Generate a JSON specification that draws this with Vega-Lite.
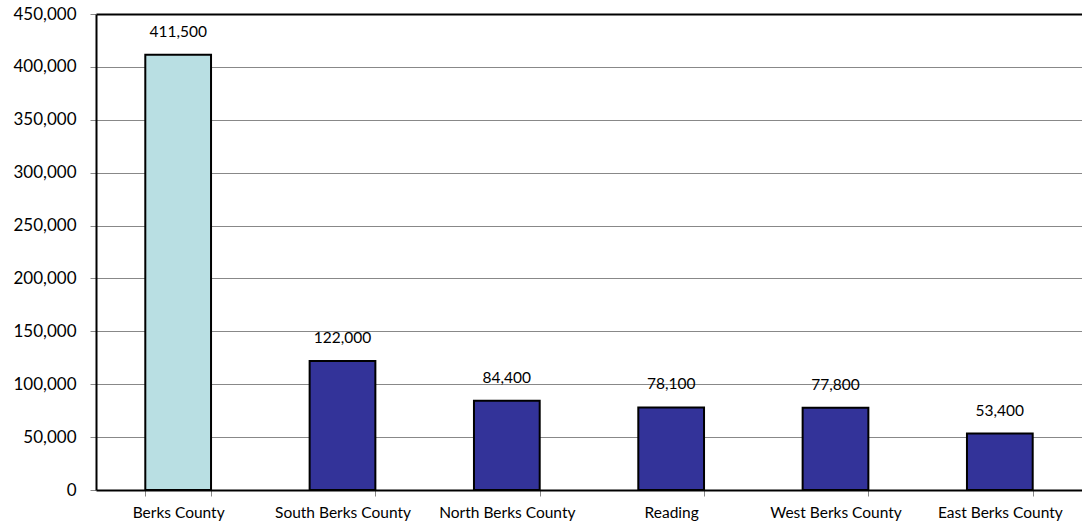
{
  "$schema": "https://vega.github.io/schema/vega-lite/v6.json",
  "width": 986,
  "height": 476,
  "autosize": {"type": "none"},
  "padding": {"left": 96, "top": 14, "right": 0, "bottom": 35},
  "background": "white",
  "config": {"view": {"stroke": null}, "font": "Lato"},
  "data": {"values": [
    {"region": "Berks County", "population": 411500, "group": "county"},
    {"region": "South Berks County", "population": 122000, "group": "sub"},
    {"region": "North Berks County", "population": 84400, "group": "sub"},
    {"region": "Reading", "population": 78100, "group": "sub"},
    {"region": "West Berks County", "population": 77800, "group": "sub"},
    {"region": "East Berks County", "population": 53400, "group": "sub"}
  ]},
  "encoding": {
    "x": {"field": "region", "type": "nominal", "sort": null,
      "scale": {"paddingInner": 0.6, "paddingOuter": 0.3},
      "axis": {"title": null, "labelAngle": 0, "labelFontSize": 15.5, "labelColor": "black", "labelPadding": 9,
        "tickBand": "extent", "tickColor": "#888888", "tickSize": 6, "domainColor": "black", "domainWidth": 2}},
    "y": {"field": "population", "type": "quantitative",
      "scale": {"domain": [0, 450000], "nice": false},
      "axis": {"title": null, "values": [0, 50000, 100000, 150000, 200000, 250000, 300000, 350000, 400000, 450000],
        "labelExpr": "format(datum.value, ',')", "labelFontSize": 17, "labelColor": "black", "labelPadding": 14, "tickColor": "#888888", "tickSize": 6,
        "domainColor": "black", "domainWidth": 2,
        "gridColor": {"condition": {"test": "datum.value === 450000", "value": "black"}, "value": "#888888"},
        "gridWidth": {"condition": {"test": "datum.value === 450000", "value": 2}, "value": 1}}}
  },
  "layer": [
    {"mark": {"type": "bar", "stroke": "black", "strokeWidth": 2},
     "encoding": {"color": {"field": "group", "type": "nominal", "legend": null,
       "scale": {"domain": ["county", "sub"], "range": ["#B9DFE3", "#333399"]}}}},
    {"mark": {"type": "text", "baseline": "middle", "dy": -23, "fontSize": 15.5, "color": "black"},
     "encoding": {"text": {"field": "population", "type": "quantitative", "format": ","}}}
  ]
}
